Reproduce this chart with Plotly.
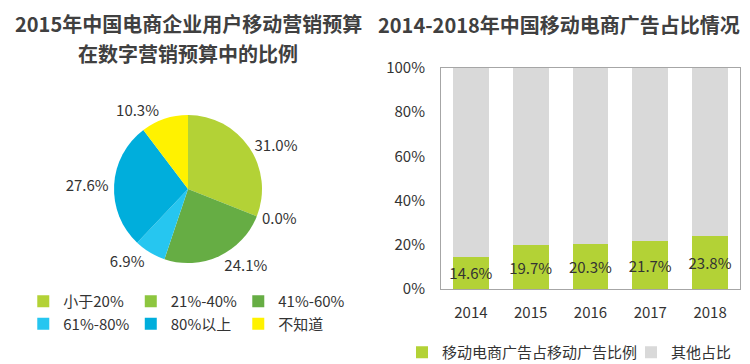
import plotly.graph_objects as go

# ---- data ----
pie_labels = ["小于20%", "21%-40%", "41%-60%", "61%-80%", "80%以上", "不知道"]
pie_values = [31.0, 0.0, 24.1, 6.9, 27.6, 10.3]
pie_colors = ["#B3D236", "#8DC63F", "#66AD44", "#26C6F0", "#00AEDC", "#FFF200"]

years = ["2014", "2015", "2016", "2017", "2018"]
mobile_share = [14.6, 19.7, 20.3, 21.7, 23.8]
other_share = [85.4, 80.3, 79.7, 78.3, 76.2]
bar_names = ["移动电商广告占移动广告比例", "其他占比"]
y_ticks = [0, 20, 40, 60, 80, 100]
y_ticktext = [f"{v}%" for v in y_ticks]

title_left = ["2015年中国电商企业用户移动营销预算", "在数字营销预算中的比例"]
title_right = "2014-2018年中国移动电商广告占比情况"

FONT = "Noto Sans CJK SC"
TXT = "#333333"

OFF = 8              # page body margin
W, H = 742, 356
ML = 16
GW = W - ML
def px(x):           # page pixel -> paper x
    return (x - OFF - ML) / GW
def py(y):           # page pixel -> paper y
    return (H - (y - OFF)) / H

fig = go.Figure()

fig.add_trace(go.Pie(
    labels=pie_labels, values=pie_values,
    marker=dict(colors=pie_colors, line=dict(width=0)),
    sort=False, direction="clockwise", rotation=0,
    texttemplate="%{value:.1f}%", textposition="outside",
    textfont=dict(family=FONT, size=15, color=TXT),
    domain=dict(x=[px(114), px(262)], y=[py(263), py(115)]),
    legend="legend", showlegend=True, hoverinfo="label+value",
))

fig.add_trace(go.Bar(
    x=years, y=mobile_share, name=bar_names[0],
    marker=dict(color="#B3D236", line=dict(width=0)),
    text=[f"{v:.1f}%" for v in mobile_share],
    textposition="inside", insidetextanchor="middle", constraintext="none",
    textangle=0,
    textfont=dict(family=FONT, size=15, color=TXT),
    legend="legend2",
))
fig.add_trace(go.Bar(
    x=years, y=other_share, name=bar_names[1],
    marker=dict(color="#D9D9D9", line=dict(width=0)),
    legend="legend2", textposition="none",
))

fig.update_layout(
    width=W, height=H,
    margin=dict(l=ML, r=0, t=0, b=0, autoexpand=False),
    paper_bgcolor="white", plot_bgcolor="white",
    font=dict(family=FONT, size=15, color=TXT),
    barmode="stack", bargap=0.4,
    xaxis=dict(domain=[px(441), px(740)], showgrid=False, zeroline=False,
               showline=True, linecolor="#A6A6A6", linewidth=1, mirror=True,
               ticks="", ticklabelstandoff=10,
               tickfont=dict(family=FONT, size=15, color=TXT)),
    yaxis=dict(domain=[py(289), py(68)], range=[0, 100], showgrid=False,
               zeroline=False, showline=True, linecolor="#A6A6A6", linewidth=1,
               mirror=True, tickvals=y_ticks, ticktext=y_ticktext, ticks="",
               ticklabelstandoff=12,
               tickfont=dict(family=FONT, size=15, color=TXT)),
    legend=dict(orientation="h", x=-0.001, xanchor="left", y=py(285), yanchor="top",
                entrywidth=62.5, font=dict(family=FONT, size=15, color=TXT),
                bgcolor="rgba(0,0,0,0)"),
    legend2=dict(orientation="h", x=px(402), xanchor="left", y=py(336), yanchor="top",
                 traceorder="normal", entrywidth=184,
                 font=dict(family=FONT, size=15, color=TXT),
                 bgcolor="rgba(0,0,0,0)"),
    annotations=[
        dict(text=f"<b>{title_left[0]}</b>", x=px(188), y=py(23), xref="paper", yref="paper",
             showarrow=False, xanchor="center", yanchor="middle",
             font=dict(family=FONT, size=20, color="#404040")),
        dict(text=f"<b>{title_left[1]}</b>", x=px(188), y=py(54), xref="paper", yref="paper",
             showarrow=False, xanchor="center", yanchor="middle",
             font=dict(family=FONT, size=20, color="#404040")),
        dict(text=f"<b>{title_right}</b>", x=px(559), y=py(25), xref="paper", yref="paper",
             showarrow=False, xanchor="center", yanchor="middle",
             font=dict(family=FONT, size=20, color="#404040")),
    ],
)

fig.write_html("out.html")
